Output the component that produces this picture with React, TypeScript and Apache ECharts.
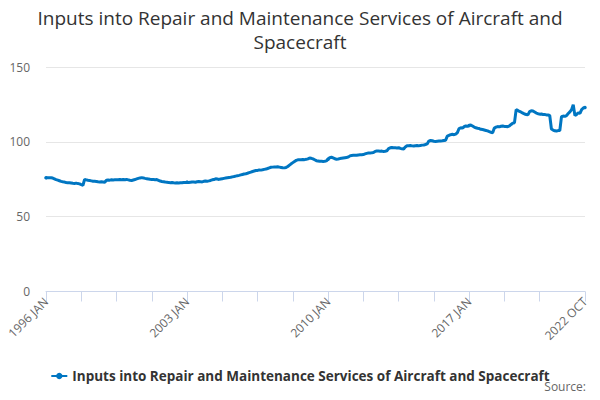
import { useEffect, useRef } from "react";
import * as echarts from "echarts";

const TITLE = "Inputs into Repair and Maintenance Services of Aircraft and\nSpacecraft";
const SERIES_NAME = "Inputs into Repair and Maintenance Services of Aircraft and Spacecraft";

const MONTHS = ["JAN", "FEB", "MAR", "APR", "MAY", "JUN", "JUL", "AUG", "SEP", "OCT", "NOV", "DEC"];
const FIRST_YEAR = 1996;

// monthly index values
const v1996 = [76.0, 76.0, 76.0, 76.0, 75.8, 75.3, 74.8, 74.4, 74.0, 73.6, 73.3, 73.1];
const v1997 = [72.8, 72.6, 72.7, 72.5, 72.3, 72.2, 72.4, 72.1, 71.9, 71.4, 71.0, 74.9];
const v1998 = [74.6, 74.3, 74.1, 73.9, 73.7, 73.6, 73.5, 73.3, 73.2, 73.3, 73.2, 73.0];
const v1999 = [74.3, 74.5, 74.4, 74.6, 74.5, 74.6, 74.7, 74.6, 74.8, 74.7, 74.9, 74.7];
const v2000 = [74.9, 74.6, 74.3, 74.2, 74.5, 74.8, 75.2, 75.6, 75.9, 76.1, 75.9, 75.6];
const v2001 = [75.4, 75.2, 75.0, 74.9, 74.8, 74.7, 74.8, 74.3, 73.8, 73.5, 73.3, 73.1];
const v2002 = [73.0, 72.9, 72.7, 72.8, 72.6, 72.5, 72.6, 72.5, 72.7, 72.6, 72.8, 72.9];
const v2003 = [73.0, 72.8, 73.0, 73.2, 73.1, 73.0, 73.3, 73.5, 73.4, 73.2, 73.6, 73.8];
const v2004 = [73.7, 73.9, 74.2, 74.6, 74.8, 75.3, 75.1, 74.9, 75.2, 75.4, 75.6, 75.8];
const v2005 = [76.0, 76.2, 76.3, 76.6, 76.8, 77.1, 77.4, 77.6, 77.9, 78.2, 78.5, 78.7];
const v2006 = [79.0, 79.4, 79.8, 80.2, 80.5, 80.8, 80.9, 81.2, 81.1, 81.3, 81.6, 81.8];
const v2007 = [82.2, 82.6, 83.0, 83.1, 83.2, 83.2, 83.3, 83.1, 82.9, 82.7, 82.6, 82.9];
const v2008 = [83.5, 84.4, 85.3, 86.1, 86.9, 87.6, 88.0, 88.1, 88.0, 88.2, 88.1, 88.3];
const v2009 = [88.6, 89.2, 89.0, 88.6, 88.0, 87.4, 87.2, 87.0, 87.1, 86.9, 87.0, 87.3];
const v2010 = [88.4, 89.4, 89.7, 89.3, 88.7, 88.4, 88.5, 88.8, 89.0, 89.2, 89.4, 89.6];
const v2011 = [89.8, 90.6, 90.9, 91.0, 91.1, 91.0, 91.2, 91.3, 91.4, 91.5, 91.9, 92.3];
const v2012 = [92.5, 92.6, 92.7, 92.9, 93.6, 93.9, 93.8, 93.7, 93.8, 93.6, 93.7, 94.0];
const v2013 = [95.5, 96.0, 96.2, 96.1, 96.0, 95.9, 96.1, 95.6, 95.3, 95.2, 96.6, 97.4];
const v2014 = [97.4, 97.5, 97.3, 97.2, 97.4, 97.5, 97.3, 97.6, 97.8, 97.9, 98.2, 98.6];
const v2015 = [100.5, 100.9, 100.7, 100.4, 100.3, 100.4, 100.5, 100.6, 100.7, 100.9, 101.1, 103.8];
const v2016 = [104.3, 104.8, 105.0, 104.8, 105.2, 106.2, 108.9, 109.4, 109.2, 110.1, 110.6, 110.4];
const v2017 = [110.9, 111.2, 110.6, 109.9, 109.4, 109.1, 108.9, 108.4, 108.2, 107.9, 107.6, 107.3];
const v2018 = [106.8, 106.4, 106.1, 109.2, 109.8, 110.2, 110.0, 110.4, 110.6, 110.3, 110.3, 110.1];
const v2019 = [110.6, 111.6, 112.5, 112.8, 121.5, 121.0, 120.3, 119.8, 119.2, 118.6, 118.3, 118.0];
const v2020 = [120.2, 120.8, 120.6, 119.9, 119.2, 118.8, 118.5, 118.6, 118.3, 118.2, 118.0, 117.9];
const v2021 = [117.6, 108.6, 107.9, 107.4, 107.2, 107.5, 107.6, 116.8, 117.2, 117.0, 117.5, 118.9];
const v2022 = [120.0, 121.5, 124.8, 117.5, 118.3, 119.4, 119.0, 121.5, 122.6, 123.0];

const yearly = [
  v1996, v1997, v1998, v1999, v2000, v2001, v2002, v2003, v2004, v2005, v2006,
  v2007, v2008, v2009, v2010, v2011, v2012, v2013, v2014, v2015, v2016, v2017,
  v2018, v2019, v2020, v2021, v2022,
];

const values: number[] = yearly.flat();
const categories: string[] = [];
yearly.forEach((yr, y) => {
  yr.forEach((_, m) => categories.push(`${FIRST_YEAR + y} ${MONTHS[m]}`));
});
const lastIdx = categories.length - 1;

const FONT = "'Open Sans', 'Noto Sans', sans-serif";

export default function App() {
  const ref = useRef<HTMLDivElement | null>(null);

  useEffect(() => {
    if (!ref.current) return;
    const chart = echarts.init(ref.current, undefined, { renderer: "svg" });

    chart.setOption({
      animation: false,
      backgroundColor: "#ffffff",
      textStyle: { fontFamily: FONT },
      title: [
        {
          text: TITLE,
          left: "center",
          top: 1,
          textStyle: {
            fontFamily: FONT,
            fontSize: 19,
            fontWeight: "normal",
            color: "#333333",
            lineHeight: 24,
          },
        },
        {
          text: "Source:",
          right: 9,
          bottom: 3,
          textStyle: { fontFamily: FONT, fontSize: 12, fontWeight: "normal", color: "#666666" },
        },
      ],
      grid: { left: 46, right: 15, top: 67, bottom: 108.5, containLabel: false },
      legend: {
        top: 364,
        left: "center",
        itemWidth: 16,
        itemHeight: 8,
        itemGap: 10,
        textStyle: { fontFamily: FONT, fontSize: 13.5, fontWeight: "bold", color: "#333333" },
        data: [SERIES_NAME],
      },
      xAxis: {
        type: "category",
        data: categories,
        boundaryGap: false,
        axisLine: { lineStyle: { color: "#ccd6eb", width: 1 } },
        axisTick: {
          show: true,
          length: 10,
          lineStyle: { color: "#ccd6eb" },
          interval: (i: number) => (i % 21 === 0 && i <= 294) || i === lastIdx,
        },
        axisLabel: {
          rotate: 45,
          color: "#666666",
          fontSize: 12,
          fontFamily: FONT,
          margin: 8,
          interval: (i: number) => i % 84 === 0 || i === lastIdx,
        },
        splitLine: { show: false },
      },
      yAxis: {
        type: "value",
        min: 0,
        max: 150,
        interval: 50,
        axisLine: { show: false },
        axisTick: { show: false },
        axisLabel: { color: "#666666", fontSize: 12, fontFamily: FONT, margin: 16 },
        splitLine: { lineStyle: { color: "#e6e6e6", width: 1 } },
      },
      series: [
        {
          name: SERIES_NAME,
          type: "line",
          data: values,
          showSymbol: true,
          symbol: "circle",
          symbolSize: 3.5,
          itemStyle: { color: "#0076c2" },
          lineStyle: { color: "#0076c2", width: 3 },
        },
      ],
    });

    return () => chart.dispose();
  }, []);

  return <div ref={ref} style={{ width: 600, height: 400, margin: -8 }} />;
}
